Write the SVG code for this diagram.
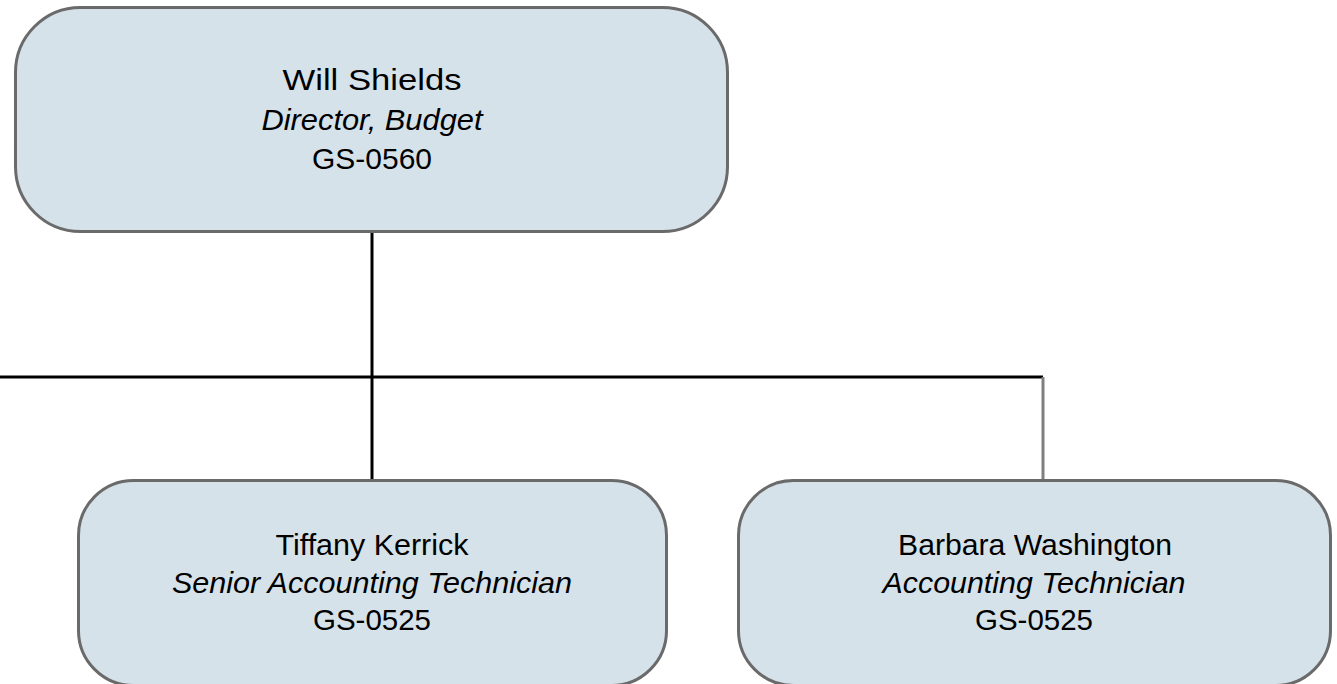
<svg xmlns="http://www.w3.org/2000/svg" width="1337" height="684" viewBox="0 0 1337 684">
<style>
.box{fill:#d6e2e9;stroke:#6a6a6a;stroke-width:3}
.t{font-family:"Liberation Sans",Arial,sans-serif;font-size:30px;fill:#000;text-anchor:middle}
.i{font-style:italic}
.c{fill:none;stroke:#000;stroke-width:3}
.g{fill:none;stroke:#7f7f7f;stroke-width:3}
</style>
<rect width="1337" height="684" fill="#fff"/>
<g id="connectors">
<line class="c" x1="372" y1="232" x2="372" y2="481"/>
<line class="c" x1="0" y1="377" x2="1043" y2="377"/>
<line class="g" x1="1043" y1="377" x2="1043" y2="481"/>
</g>
<g id="node-will-shields">
<rect class="box" x="15.5" y="7.5" width="712" height="224" rx="65" ry="65"/>
<text class="t" x="372" y="90" textLength="179" lengthAdjust="spacingAndGlyphs">Will Shields</text>
<text class="t i" x="372" y="130" textLength="221" lengthAdjust="spacingAndGlyphs">Director, Budget</text>
<text class="t" x="372" y="169" textLength="120" lengthAdjust="spacingAndGlyphs">GS-0560</text>
</g>
<g id="node-tiffany-kerrick">
<rect class="box" x="78.5" y="480.5" width="588" height="205" rx="55" ry="55"/>
<text class="t" x="372" y="555" textLength="193" lengthAdjust="spacingAndGlyphs">Tiffany Kerrick</text>
<text class="t i" x="372" y="593" textLength="400" lengthAdjust="spacingAndGlyphs">Senior Accounting Technician</text>
<text class="t" x="372" y="630" textLength="118" lengthAdjust="spacingAndGlyphs">GS-0525</text>
</g>
<g id="node-barbara-washington">
<rect class="box" x="738.5" y="480.5" width="592" height="205" rx="55" ry="55"/>
<text class="t" x="1035" y="555" textLength="274" lengthAdjust="spacingAndGlyphs">Barbara Washington</text>
<text class="t i" x="1034" y="593" textLength="303" lengthAdjust="spacingAndGlyphs">Accounting Technician</text>
<text class="t" x="1034" y="630" textLength="118" lengthAdjust="spacingAndGlyphs">GS-0525</text>
</g>
</svg>
